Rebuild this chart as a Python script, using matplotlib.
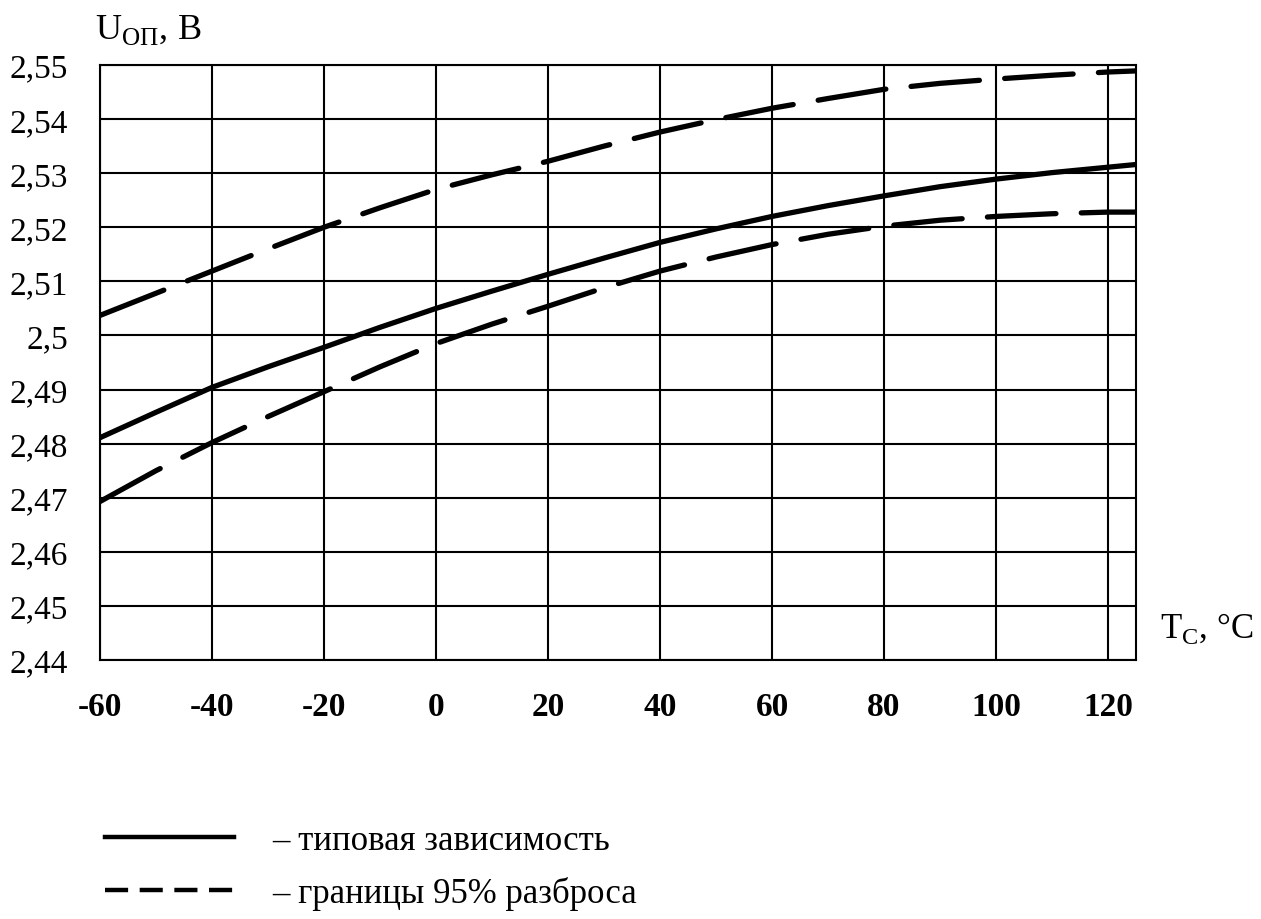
import matplotlib
matplotlib.use("Agg")
import matplotlib.pyplot as plt
from matplotlib.lines import Line2D
from matplotlib.ticker import FuncFormatter

plt.rcParams['font.family'] = ['Liberation Serif', 'DejaVu Serif']
plt.rcParams['mathtext.fontset'] = 'custom'
plt.rcParams['mathtext.rm'] = 'Liberation Serif'
plt.rcParams['axes.unicode_minus'] = False

# temperature, deg C
temps = [-60, -50, -40, -30, -20, -10, 0, 10, 20, 30, 40, 50, 60, 70, 80, 90, 100, 110, 120, 125]
# typical curve
u_typ = [2.4811, 2.4858, 2.4904, 2.4942, 2.4978, 2.5015, 2.5050, 2.5082, 2.5113, 2.5143,
         2.5172, 2.5197, 2.5220, 2.5240, 2.5258, 2.5275, 2.5289, 2.5301, 2.5311, 2.5316]
# 95% bounds
u_high = [2.5037, 2.5078, 2.5119, 2.5160, 2.5200, 2.5236, 2.5270, 2.5297, 2.5322, 2.5350,
          2.5376, 2.5399, 2.5420, 2.5438, 2.5455, 2.5466, 2.5474, 2.5481, 2.5487, 2.5489]
u_low = [2.4693, 2.4750, 2.4802, 2.4850, 2.4896, 2.4942, 2.4985, 2.5021, 2.5054, 2.5088,
         2.5119, 2.5145, 2.5168, 2.5187, 2.5202, 2.5213, 2.5220, 2.5225, 2.5228, 2.5228]

x_ticks = [-60, -40, -20, 0, 20, 40, 60, 80, 100, 120]
y_ticks = [2.44, 2.45, 2.46, 2.47, 2.48, 2.49, 2.50, 2.51, 2.52, 2.53, 2.54, 2.55]
labels = ['\u2013 типовая зависимость', '\u2013 границы 95% разброса']

fig = plt.figure(figsize=(12.61, 9.20), dpi=100)
ax = fig.add_axes([0.0793, 0.2815, 0.8216, 0.6468])

ax.plot(temps, u_typ, color='black', lw=3.8, solid_capstyle='round')
for u in (u_high, u_low):
    ax.plot(temps, u, color='black', lw=3.8, linestyle=(0, (13, 4.8)), dash_capstyle='round')

ax.set_xlim(-60, 125)
ax.set_ylim(2.44, 2.55)
ax.set_xticks(x_ticks)
ax.set_yticks(y_ticks)
ax.grid(True, color='black', lw=1.5)
for s in ax.spines.values():
    s.set_linewidth(1.5)


def comma(v, pos):
    s = ('%.2f' % v).rstrip('0').rstrip('.')
    return s.replace('.', ',')


ax.yaxis.set_major_formatter(FuncFormatter(comma))
for t in ax.get_yticklabels():
    t.set_fontsize(24)
for t in ax.get_xticklabels():
    t.set_fontsize(24)
    t.set_fontweight('bold')
ax.tick_params(length=0)
ax.tick_params(axis='y', pad=23)
ax.tick_params(axis='x', pad=22)

fig.text(95 / 1261, 1 - 39 / 920, r'U$_{\mathrm{ОП}}$, В', fontsize=26, va='baseline', ha='left')
fig.text(1160 / 1261, 1 - 638 / 920, r'T$_{\mathrm{C}}$, °C', fontsize=25, va='baseline', ha='left')

handles = [Line2D([], [], color='black', lw=3.2),
           Line2D([], [], color='black', lw=3.2, linestyle=(0, (5.2, 2.6)))]
fig.legend(handles, labels, loc='center left', bbox_to_anchor=(88 / 1261, 1 - 868 / 920),
           frameon=False, fontsize=25, borderpad=0, handlelength=3.7, handletextpad=1.1,
           labelspacing=0.55)

fig.savefig('out.png', dpi=100)
